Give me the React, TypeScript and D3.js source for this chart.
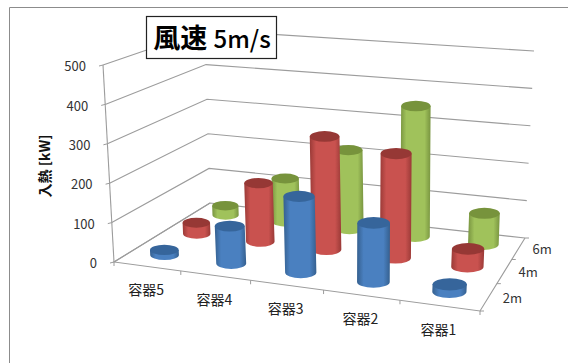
import React from "react";
import * as d3 from "d3";

// Chart data
const categories = ["容器5", "容器4", "容器3", "容器2", "容器1"];
const depths = ["2m", "4m", "6m"];
const yTicks = [0, 100, 200, 300, 400, 500];
const values2m = [13, 95, 190, 145, 18];
const values4m = [30, 155, 295, 268, 45];
const values6m = [26, 120, 215, 350, 82];

const seriesValues = [values2m, values4m, values6m];
const seriesStyles = [
  { id: "blue", edge: "#35608f", mid: "#4a80c0", top: "#36659b" },
  { id: "red", edge: "#9a3a37", mid: "#c9524f", top: "#963835" },
  { id: "green", edge: "#789440", mid: "#a0c25b", top: "#77933c" },
];

type Pt = [number, number];

// Perspective mapping of the unit square onto a quadrilateral
function homography(p0: Pt, p1: Pt, p2: Pt, p3: Pt) {
  const dx1 = p1[0] - p2[0], dx2 = p3[0] - p2[0], sx = p0[0] - p1[0] + p2[0] - p3[0];
  const dy1 = p1[1] - p2[1], dy2 = p3[1] - p2[1], sy = p0[1] - p1[1] + p2[1] - p3[1];
  const den = dx1 * dy2 - dx2 * dy1;
  const g = (sx * dy2 - dx2 * sy) / den;
  const h = (dx1 * sy - sx * dy1) / den;
  const a = p1[0] - p0[0] + g * p1[0], b = p3[0] - p0[0] + h * p3[0], c = p0[0];
  const d = p1[1] - p0[1] + g * p1[1], e = p3[1] - p0[1] + h * p3[1], f = p0[1];
  return (u: number, v: number): Pt => {
    const w = g * u + h * v + 1;
    return [(a * u + b * v + c) / w, (d * u + e * v + f) / w];
  };
}

const floor = homography([114, 262], [480, 311], [525, 238], [210, 203]);
const ceiling = homography([103, 65], [494, 98], [534, 51], [205, 30]);

const xBand = d3.scaleBand<string>().domain(categories).range([0, 1]);
const zBand = d3.scaleBand<string>().domain(depths).range([0, 1]);
const yScale = d3.scaleLinear().domain([0, 500]).range([0, 1]);

function project(u: number, v: number, value: number): Pt {
  const t = yScale(value);
  const a = floor(u, v);
  const b = ceiling(u, v);
  return [a[0] + (b[0] - a[0]) * t, a[1] + (b[1] - a[1]) * t];
}

const lineOf = (pts: Pt[]) => d3.line()(pts) as string;
const GRID = "#9c9c9c";
const LABEL = "#333";
const FONT = "'Noto Sans CJK JP', 'Noto Sans', sans-serif";

// One cylinder standing on the floor
function Cylinder({ cat, depthIdx, value }: { cat: string; depthIdx: number; value: number }) {
  const u = (xBand(cat) as number) + xBand.bandwidth() / 2;
  const v = (zBand(depths[depthIdx]) as number) + zBand.bandwidth() / 2;
  const base = project(u, v, 0);
  const top = project(u, v, value);
  const rFrac = 0.044;
  const rx = Math.abs(project(u + rFrac, v, 0)[0] - project(u - rFrac, v, 0)[0]) / 2;
  const ry = rx * 0.36;
  const s = seriesStyles[depthIdx];
  const bodyD =
    `M${top[0] - rx},${top[1]}L${base[0] - rx},${base[1]}` +
    `A${rx},${ry} 0 0 0 ${base[0] + rx},${base[1]}L${top[0] + rx},${top[1]}Z`;
  return (
    <g>
      <path d={bodyD} fill={`url(#side-${s.id})`} />
      <ellipse cx={top[0]} cy={top[1]} rx={rx} ry={ry} fill={s.top} />
    </g>
  );
}

export default function App() {
  const xEdges = d3.range(categories.length + 1).map((i) => i / categories.length);
  const zEdges = d3.range(depths.length + 1).map((i) => i / depths.length);

  return (
    <svg
      width={568}
      height={363}
      style={{ position: "absolute", left: 0, top: 0, background: "#fff" }}
      fontFamily={FONT}
    >
      <defs>
        {seriesStyles.map((s) => (
          <linearGradient key={s.id} id={`side-${s.id}`} x1="0" x2="1" y1="0" y2="0">
            <stop offset="0" stopColor={s.edge} />
            <stop offset="0.2" stopColor={s.mid} />
            <stop offset="0.8" stopColor={s.mid} />
            <stop offset="1" stopColor={s.edge} />
          </linearGradient>
        ))}
      </defs>

      {/* chart frame */}
      <path d="M9.5,363V7.5H568" fill="none" stroke="#8c8c8c" strokeWidth={1} />

      {/* wall gridlines */}
      {yTicks.map((t) => (
        <g key={t}>
          <path
            d={lineOf([project(0, 0, t), project(0, 1, t), project(1, 1, t)])}
            fill="none"
            stroke={GRID}
            strokeWidth={1.1}
          />
          <path
            d={lineOf([project(0, 0, t), [project(0, 0, t)[0] - 4, project(0, 0, t)[1] + 1]])}
            stroke={GRID}
          />
          <text
            x={project(0, 0, t)[0] - 17}
            y={project(0, 0, t)[1] + 1.5}
            dy="0.36em"
            textAnchor="end"
            fontSize={13}
            fill={LABEL}
          >
            {t}
          </text>
        </g>
      ))}

      {/* vertical value axis and floor outline */}
      <path d={lineOf([project(0, 0, 0), project(0, 0, 500)])} stroke={GRID} strokeWidth={1.1} fill="none" />
      <path
        d={lineOf([project(0, 1, 0), project(0, 0, 0), project(1, 0, 0), project(1, 1, 0)])}
        stroke={GRID}
        strokeWidth={1.1}
        fill="none"
      />

      {/* floor tick marks */}
      {xEdges.map((u) => {
        const p = project(u, 0, 0);
        return <path key={u} d={lineOf([p, [p[0], p[1] + 4]])} stroke={GRID} />;
      })}
      {zEdges.map((v) => {
        const p = project(1, v, 0);
        return <path key={v} d={lineOf([p, [p[0] + 4, p[1]]])} stroke={GRID} />;
      })}

      {/* cylinders, back row first */}
      {[2, 1, 0].map((d) =>
        categories.map((c, i) => (
          <Cylinder key={`${d}-${c}`} cat={c} depthIdx={d} value={seriesValues[d][i]} />
        ))
      )}

      {/* category labels */}
      {categories.map((c) => {
        const p = project((xBand(c) as number) + xBand.bandwidth() / 2, 0, 0);
        return (
          <text key={c} x={p[0] - 1} y={p[1] + 24} dy="0.36em" textAnchor="middle" fontSize={14} fill="#222">
            {c}
          </text>
        );
      })}

      {/* depth labels */}
      {depths.map((d) => {
        const p = project(1, (zBand(d) as number) + zBand.bandwidth() / 2, 0);
        return (
          <text key={d} x={p[0] + 14} y={p[1] + 1} dy="0.36em" fontSize={13} fill={LABEL}>
            {d}
          </text>
        );
      })}

      {/* value axis title */}
      <text
        transform="translate(45,166) rotate(-90)"
        textAnchor="middle"
        dy="0.36em"
        fontSize={14}
        fontWeight={700}
        fill="#111"
      >
        入熱 [kW]
      </text>

      {/* chart title */}
      <rect x={146.5} y={16.5} width={130} height={42} fill="#fff" stroke="#222" strokeWidth={1.2} />
      <text x={212} y={38} dy="0.36em" textAnchor="middle" fill="#000" fontSize={27} fontWeight={700}>
        風速 <tspan fontSize={24} fontWeight={500}>5m/s</tspan>
      </text>
    </svg>
  );
}
